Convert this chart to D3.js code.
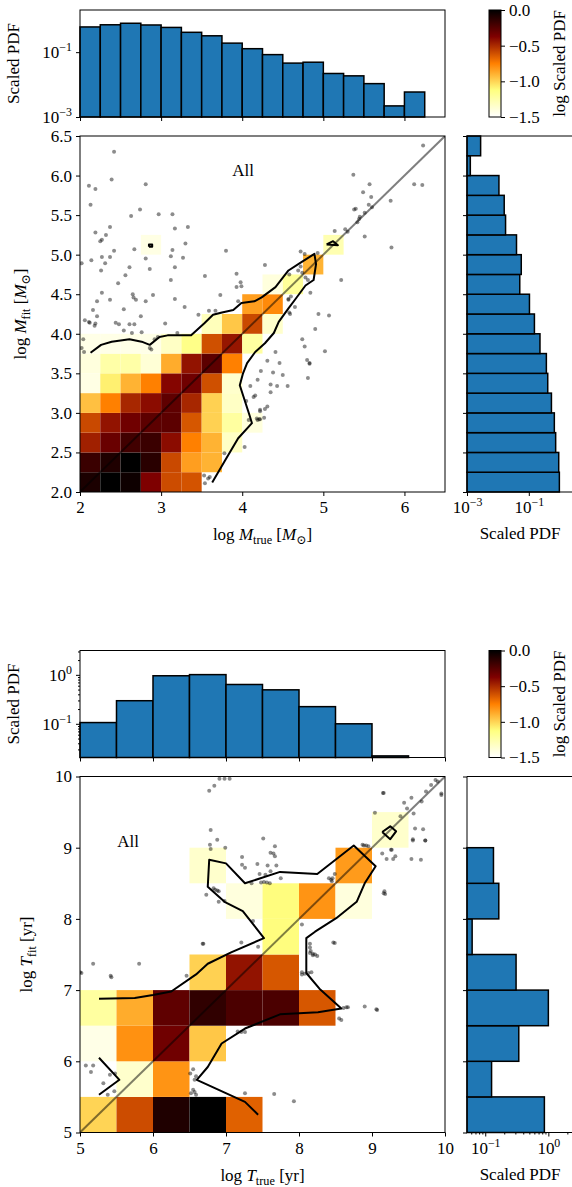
<!DOCTYPE html>
<html>
<head>
<meta charset="utf-8">
<script src="https://cdn.jsdelivr.net/npm/d3@7"></script>
<style>
  body { margin: 0; background: #fff; }
  text { font-family: "Liberation Serif", "DejaVu Serif", serif; fill: #000; }
</style>
</head>
<body>
<script>
// ---------- mass panel data ----------
const massBins = [2.0, 2.25, 2.5, 2.75, 3.0, 3.25, 3.5, 3.75, 4.0, 4.25, 4.5, 4.75, 5.0, 5.25, 5.5, 5.75, 6.0, 6.25, 6.5];
const massTicksX = [2, 3, 4, 5, 6];
const massTicksY = [2.0, 2.5, 3.0, 3.5, 4.0, 4.5, 5.0, 5.5, 6.0, 6.5];
// scaled PDF of M_true (top) and M_fit (right), one value per bin
const massTopPdf = [0.60, 0.70, 0.78, 0.69, 0.58, 0.41, 0.32, 0.19, 0.128, 0.084, 0.046, 0.049, 0.022, 0.0186, 0.0107, 0.0022, 0.0059, 0];
const massRightPdf = [0.975, 0.93, 0.74, 0.67, 0.54, 0.41, 0.37, 0.23, 0.152, 0.105, 0.051, 0.057, 0.040, 0.0177, 0.016, 0.0108, 0.00128, 0.00276];
// log scaled PDF of the 2d histogram, rows from M_fit = 2.0 upward
const massGrid = [
  [-0.08, 0, -0.04, -0.37, -0.6, -0.62],
  [-0.17, -0.09, 0, -0.12, -0.59, -0.84, -0.9],
  [-0.47, -0.31, -0.19, -0.17, -0.41, -0.75, -0.9, -1.33],
  [-0.59, -0.43, -0.33, -0.27, -0.27, -0.63, -0.99, -1.22, -1.4],
  [-0.94, -0.75, -0.49, -0.41, -0.28, -0.49, -0.99, -1.33],
  [-1.42, -1.08, -0.9, -0.75, -0.39, -0.33, -0.61, -1.35],
  [-1.4, -1.24, -1.24, -1.38, -0.88, -0.43, -0.27, -0.75],
  [-1.43, -1.43, -1.43, -1.43, -1.33, -1.15, -0.61, -0.44, -1.22],
  [null, null, null, null, null, null, -1.3, -0.96, -0.59, -1.35],
  [null, null, null, null, null, null, null, null, -0.84, -0.78],
  [null, null, null, null, null, null, null, null, null, -1.4, -1.2],
  [null, null, null, null, null, null, null, null, null, null, null, -0.9],
  [null, null, null, -1.42, null, null, null, null, null, null, null, null, -1.27]
];
const massPts = [
  [2.42,6.30],[2.39,5.95],[2.81,5.89],[2.11,5.87],[2.19,5.83],[2.13,5.63],[2.63,5.49],[2.74,5.57],[2.97,5.51],[3.14,5.51],
  [3.17,5.33],[3.33,5.35],[2.37,5.35],[2.19,5.28],[2.32,5.25],[2.27,5.19],[2.25,5.17],[3.30,5.14],[2.67,5.07],[3.14,5.06],
  [2.42,5.05],[2.14,4.93],[2.27,4.97],[2.37,4.97],[2.31,4.89],[2.02,4.89],[2.81,4.95],[3.12,4.98],[3.27,4.96],[3.80,5.05],
  [2.61,4.84],[2.86,4.82],[3.17,4.84],[2.26,4.80],[2.56,4.74],[3.54,4.73],[3.93,4.76],[3.98,4.65],[3.93,4.59],[3.99,4.60],
  [3.12,4.68],[2.47,4.64],[2.27,4.52],[2.90,4.49],[2.65,4.50],[2.66,4.46],[2.69,4.43],[2.37,4.43],[2.81,4.41],[3.17,4.44],
  [3.73,4.49],[4.28,4.87],[2.21,4.41],[2.16,4.30],[2.54,4.31],[3.29,4.34],[2.21,4.22],[2.75,4.22],[3.46,4.24],[3.59,4.29],
  [3.67,4.29],[2.11,4.15],[2.19,4.13],[2.18,4.10],[2.44,4.14],[2.48,4.12],[2.61,4.12],[2.67,4.12],[3.05,4.13],[2.76,4.02],
  [2.54,4.04],[2.64,4.01],[3.20,4.01],[2.06,4.17],[2.12,4.14],[2.04,3.93],[2.02,3.82],[2.05,3.77],[2.92,3.93],[2.96,3.96],
  [2.86,3.82],[2.88,3.80],[3.95,4.41],[4.23,3.53],[4.10,3.34],[4.14,3.20],[4.05,3.15],[4.22,3.04],[4.18,2.93],[4.21,2.92],
  [4.08,2.91],[4.03,2.57],[3.78,2.49],[3.53,2.21],[3.58,2.17],[3.54,2.11],[3.60,2.19],[4.57,4.43],[4.65,4.34],[4.59,4.25],
  [4.58,4.27],[4.94,4.25],[5.07,4.23],[4.90,4.06],[4.74,3.93],[4.77,3.84],[5.02,3.78],[4.41,3.77],[4.31,3.66],[4.46,3.63],
  [4.80,3.67],[4.83,3.62],[4.83,3.63],[4.38,3.51],[4.50,3.48],[4.81,3.44],[4.19,3.42],[4.35,3.36],[4.43,3.34],[4.56,3.34],
  [4.35,3.26],[4.16,3.22],[4.31,3.08],[4.28,3.05],[4.22,3.02],[4.27,2.94],[4.19,2.91],[4.22,2.92],[6.23,6.38],[5.37,6.01],
  [5.57,5.89],[6.12,5.89],[6.22,5.88],[5.49,5.79],[5.59,5.73],[5.83,5.68],[5.56,5.63],[5.38,5.57],[5.40,5.58],[5.60,5.60],
  [5.51,5.53],[5.45,5.48],[5.44,5.45],[5.42,5.41],[5.14,5.30],[5.27,5.32],[5.30,5.29],[5.51,5.23],[5.84,5.09],[4.72,5.04],
  [4.77,5.01],[4.93,5.02],[4.58,4.75],[4.72,4.85],[4.69,4.80],[4.74,4.77],[4.78,4.71],[4.81,4.68],[5.22,4.68],[4.84,4.52],
  [4.57,4.44],[4.60,4.47]
];
const massContours = [
  [[2.13,3.76],[2.26,3.86],[2.39,3.90],[2.61,3.93],[2.76,3.90],[2.86,3.86],[2.98,3.96],[3.08,3.98],[3.37,3.98],[3.53,4.13],
   [3.64,4.24],[3.75,4.27],[3.89,4.30],[3.99,4.39],[4.15,4.41],[4.24,4.46],[4.41,4.59],[4.57,4.80],[4.72,4.90],[4.89,5.01],
   [4.91,4.88],[4.88,4.68],[4.78,4.61],[4.65,4.43],[4.57,4.32],[4.45,4.15],[4.39,4.01],[4.28,3.88],[4.16,3.77],[4.06,3.63],
   [4.01,3.50],[3.97,3.35],[4.03,3.16],[4.09,2.97],[4.12,2.87],[3.95,2.68],[3.79,2.40],[3.63,2.12]],
  [[5.04,5.13],[5.12,5.17],[5.18,5.12],[5.04,5.13]],
  [[2.85,5.10],[2.89,5.10],[2.89,5.13],[2.85,5.13],[2.85,5.10]]
];

// ---------- age panel data ----------
const timeBins = [5.0, 5.5, 6.0, 6.5, 7.0, 7.5, 8.0, 8.5, 9.0, 9.5, 10.0];
const timeTicks = [5, 6, 7, 8, 9, 10];
const timeTopPdf = [0.106, 0.296, 0.957, 1.01, 0.635, 0.494, 0.224, 0.100, 0.0221, 0];
const timeRightPdf = [0.865, 0.126, 0.340, 1.0, 0.308, 0.062, 0.164, 0.135, 0, 0];
const timeGrid = [
  [-1.0, -0.6, -0.09, 0, -0.66],
  [null, -1.35, -0.81],
  [-1.43, -0.8, -0.33, -0.96],
  [-1.22, -0.88, -0.28, -0.14, -0.22, -0.22, -0.63],
  [null, null, null, -0.99, -0.43, -0.63],
  [null, null, null, null, null, -1.12],
  [null, null, null, null, -1.4, -1.12, -0.81, -1.4],
  [null, null, null, -1.35, null, null, null, -0.83],
  [null, null, null, null, null, null, null, null, -1.35]
];
const timePts = [
  [6.91,9.97],[6.98,9.97],[7.05,9.97],[6.84,9.87],[6.77,9.80],[9.16,9.77],[9.87,9.95],[9.90,9.93],[9.81,9.88],[9.95,9.76],
  [9.74,9.79],[9.54,9.70],[9.44,9.63],[9.68,9.65],[9.48,9.55],[9.57,9.48],[9.39,9.44],[9.59,9.27],[9.56,9.12],[9.73,9.10],
  [9.26,8.97],[9.14,8.92],[9.67,8.83],[9.32,8.88],[9.16,8.36],[6.79,9.25],[6.88,9.11],[6.78,9.04],[6.79,8.98],[6.99,9.00],
  [7.51,9.13],[7.67,9.02],[7.61,8.93],[7.65,8.92],[7.67,8.88],[7.22,8.87],[7.22,8.76],[7.26,8.72],[7.43,8.77],[7.57,8.75],
  [7.69,8.75],[7.61,8.67],[7.46,8.63],[7.54,8.62],[7.75,8.57],[7.48,8.51],[7.52,8.52],[7.56,8.51],[7.35,8.50],[7.60,8.50],
  [6.83,8.43],[6.85,8.41],[6.88,8.40],[6.90,8.39],[6.73,8.34],[6.90,8.24],[6.98,8.25],[8.41,8.57],[8.44,8.55],[8.46,8.57],
  [8.45,8.53],[8.49,8.63],[8.87,9.04],[8.89,9.03],[8.92,9.03],[8.95,9.02],[9.17,8.39],[7.37,7.97],[6.68,7.65],[7.21,7.67],
  [7.44,7.61],[8.15,7.60],[8.16,7.55],[8.49,7.66],[8.15,7.52],[8.04,7.92],[8.19,7.51],[8.15,7.65],[8.17,7.25],[8.04,7.25],
  [8.47,7.67],[5.0,7.25],[5.18,7.37],[5.42,7.20],[5.43,7.18],[5.81,7.37],[6.46,7.20],[6.69,7.65],[8.65,6.76],[8.67,6.76],
  [8.55,6.60],[8.90,6.77],[9.06,6.73],[7.16,6.42],[7.21,6.41],[7.26,6.41],[9.29,8.84],[9.20,8.84],[9.18,8.35],[9.27,8.97],
  [9.04,9.49],[9.15,9.77],[9.70,9.26],[9.73,9.10],[9.56,9.10],[9.54,8.84],[9.95,9.74],[5.02,7.24],[5.08,5.94],[5.18,5.94],
  [5.15,5.85],[5.41,5.81],[5.48,5.83],[5.32,5.69],[5.38,5.53],[5.47,5.58],[6.55,5.89],[6.51,5.83],[6.59,5.79],[6.57,5.74],
  [6.55,5.60],[6.57,5.57],[6.52,5.55],[6.59,5.53],[7.26,5.55],[7.66,5.54],[7.93,5.44],[8.04,7.22],[8.08,7.23],[8.13,7.24],
  [8.19,7.49],[8.22,7.50],[8.25,7.48],[8.61,6.75],[8.58,6.58],[9.07,6.72]
];
const timeContours = [
  [[5.26,6.88],[5.75,6.89],[6.0,6.93],[6.25,6.98],[6.59,7.22],[6.75,7.37],[7.07,7.53],[7.52,7.73],[7.23,8.11],[6.98,8.24],
   [6.75,8.45],[6.77,8.83],[7.0,8.78],[7.26,8.50],[7.74,8.66],[8.25,8.63],[8.75,9.03],[9.05,8.74],[8.90,8.50],[8.79,8.24],
   [8.51,8.01],[8.22,7.82],[8.10,7.73],[8.10,7.24],[8.28,7.02],[8.58,6.74],[8.26,6.69],[7.74,6.66],[7.26,6.46],[6.94,6.25],
   [6.75,5.92],[6.60,5.74],[7.26,5.43],[7.44,5.25]],
  [[5.26,6.05],[5.54,5.74],[5.26,5.53]],
  [[9.14,9.22],[9.25,9.30],[9.33,9.23],[9.25,9.12],[9.14,9.22]]
];

const cbarTicks = [0, -0.5, -1.0, -1.5];

// afmhot_r, vmin -1.5, vmax 0
function afmhotR(v) {
  const t = Math.max(0, Math.min(1, -v / 1.5));
  const c = a => Math.round(255 * Math.max(0, Math.min(1, a)));
  return `rgb(${c(2 * t)},${c(2 * t - 0.5)},${c(2 * t - 1)})`;
}

const svg = d3.select("body").append("svg").attr("width", 572).attr("height", 1187);
const FS = 17;      // labels
const TS = 17;      // tick labels
const BLUE = "#1f77b4";

function mathText(t, parts) {
  let shift = 0;
  parts.forEach(([s, k]) => {
    const target = k === "s" ? 4 : 0;
    const ts = t.append("tspan").text(s).attr("dy", target - shift);
    shift = target;
    if (k === "s") ts.attr("font-size", FS * 0.72);
    if (k === "i") ts.attr("font-style", "italic");
  });
}

function supTicks(sel) {
  sel.selectAll(".tick text").each(function (d) {
    const t = d3.select(this).text("");
    t.append("tspan").text("10");
    t.append("tspan").attr("dy", -7).attr("font-size", TS * 0.7)
      .text(String(Math.round(Math.log10(d))).replace("-", "\u2212"));
  });
}

function styleAxis(g) {
  g.select(".domain").remove();
  g.selectAll(".tick line").attr("stroke", "#000");
  g.selectAll(".tick text").attr("font-size", TS).attr("font-family", null);
}

function minorTicks(dom) {
  const out = [];
  for (let e = Math.floor(Math.log10(dom[0])); e <= Math.ceil(Math.log10(dom[1])); e++) {
    for (let m = 2; m <= 9; m++) {
      const v = m * Math.pow(10, e);
      if (v >= dom[0] && v <= dom[1]) out.push(v);
    }
  }
  return out;
}

let pid = 0;
function panel(o) {
  pid++;
  const X0 = 80, X1 = 445, R0 = 467, R1 = 572;
  const mT = o.mainT, mB = o.mainT + 356;
  const hT = o.mainT - 126, hB = o.mainT - 19;
  const g = svg.append("g");

  const x = d3.scaleLinear().domain([o.bins[0], o.bins[o.bins.length - 1]]).range([X0, X1]);
  const y = d3.scaleLinear().domain([o.bins[0], o.bins[o.bins.length - 1]]).range([mB, mT]);

  g.append("clipPath").attr("id", "clip" + pid)
    .append("rect").attr("x", X0).attr("y", mT).attr("width", X1 - X0).attr("height", mB - mT);
  const plot = g.append("g").attr("clip-path", `url(#clip${pid})`);

  // 2d histogram cells
  const cells = [];
  o.grid.forEach((row, j) => row.forEach((v, i) => { if (v !== null) cells.push({ i, j, v }); }));
  plot.selectAll("rect.cell").data(cells).join("rect")
    .attr("x", d => x(o.bins[d.i]))
    .attr("y", d => y(o.bins[d.j + 1]))
    .attr("width", d => x(o.bins[d.i + 1]) - x(o.bins[d.i]))
    .attr("height", d => y(o.bins[d.j]) - y(o.bins[d.j + 1]))
    .attr("fill", d => afmhotR(d.v));

  // one-to-one line
  const dom = x.domain();
  plot.append("line")
    .attr("x1", x(dom[0])).attr("y1", y(dom[0]))
    .attr("x2", x(dom[1])).attr("y2", y(dom[1]))
    .attr("stroke", "#000").attr("stroke-opacity", 0.5).attr("stroke-width", 2);

  plot.selectAll("circle").data(o.pts).join("circle")
    .attr("cx", d => x(d[0])).attr("cy", d => y(d[1])).attr("r", 2)
    .attr("fill", "#000").attr("fill-opacity", 0.45);

  const line = d3.line().x(d => x(d[0])).y(d => y(d[1]));
  plot.selectAll("path.contour").data(o.contours).join("path")
    .attr("d", line).attr("fill", "none").attr("stroke", "#000")
    .attr("stroke-width", 2).attr("stroke-linejoin", "round");

  g.append("rect").attr("x", X0).attr("y", mT).attr("width", X1 - X0).attr("height", mB - mT)
    .attr("fill", "none").attr("stroke", "#000");

  g.append("g").attr("transform", `translate(0,${mB})`)
    .call(d3.axisBottom(x).tickValues(o.xTicks).tickFormat(o.xFmt).tickSize(4).tickPadding(5))
    .call(styleAxis);
  g.append("g").attr("transform", `translate(${X0},0)`)
    .call(d3.axisLeft(y).tickValues(o.yTicks).tickFormat(o.yFmt).tickSize(4).tickPadding(4))
    .call(styleAxis);

  g.append("text").attr("x", o.allPos[0]).attr("y", o.allPos[1]).attr("text-anchor", "middle")
    .attr("font-size", 17).text("All");

  const xl = g.append("text").attr("x", (X0 + X1) / 2).attr("y", mB + 48).attr("text-anchor", "middle").attr("font-size", FS);
  mathText(xl, o.xLabel);
  const yl = g.append("text").attr("transform", `translate(${o.yLabelX},${(mT + mB) / 2}) rotate(-90)`)
    .attr("text-anchor", "middle").attr("font-size", FS);
  mathText(yl, o.yLabel);

  // top histogram
  const yt = d3.scaleLog().domain(o.topDomain).range([hB, hT]);
  const top = g.append("g");
  top.selectAll("rect").data(o.topPdf.map((v, i) => ({ v, i })).filter(d => d.v > o.topDomain[0])).join("rect")
    .attr("x", d => x(o.bins[d.i])).attr("width", d => x(o.bins[d.i + 1]) - x(o.bins[d.i]))
    .attr("y", d => yt(d.v)).attr("height", d => hB - yt(d.v))
    .attr("fill", BLUE).attr("stroke", "#000").attr("stroke-width", 1.5);
  top.append("rect").attr("x", X0).attr("y", hT).attr("width", X1 - X0).attr("height", hB - hT)
    .attr("fill", "none").attr("stroke", "#000");
  top.append("g").attr("transform", `translate(0,${hB})`)
    .call(d3.axisBottom(x).tickValues(o.xTicks).tickFormat("").tickSize(4)).call(styleAxis);
  top.append("g").attr("transform", `translate(${X0},0)`)
    .call(d3.axisLeft(yt).tickValues(o.topTicks).tickSize(4).tickPadding(4)).call(styleAxis).call(supTicks);
  if (o.minor) {
    top.append("g").attr("transform", `translate(${X0},0)`)
      .call(d3.axisLeft(yt).tickValues(minorTicks(o.topDomain)).tickFormat("").tickSize(2)).call(styleAxis);
  }
  top.append("text").attr("transform", `translate(19,${(hT + hB) / 2}) rotate(-90)`)
    .attr("text-anchor", "middle").attr("font-size", FS).text("Scaled PDF");

  // right histogram
  const xr = d3.scaleLog().domain(o.rightDomain).range([R0, R1]);
  const right = g.append("g");
  right.selectAll("rect").data(o.rightPdf.map((v, i) => ({ v, i })).filter(d => d.v > o.rightDomain[0])).join("rect")
    .attr("x", R0).attr("width", d => xr(d.v) - R0)
    .attr("y", d => y(o.bins[d.i + 1])).attr("height", d => y(o.bins[d.i]) - y(o.bins[d.i + 1]))
    .attr("fill", BLUE).attr("stroke", "#000").attr("stroke-width", 1.5);
  right.append("path").attr("d", `M${R1},${mT}H${R0}V${mB}H${R1}`).attr("fill", "none").attr("stroke", "#000");
  right.append("g").attr("transform", `translate(${R0},0)`)
    .call(d3.axisLeft(y).tickValues(o.yTicks).tickFormat("").tickSize(4)).call(styleAxis);
  right.append("g").attr("transform", `translate(0,${mB})`)
    .call(d3.axisBottom(xr).tickValues(o.rightTicks).tickSize(4).tickPadding(5)).call(styleAxis).call(supTicks);
  if (o.minor) {
    right.append("g").attr("transform", `translate(0,${mB})`)
      .call(d3.axisBottom(xr).tickValues(minorTicks(o.rightDomain)).tickFormat("").tickSize(2)).call(styleAxis);
  }
  right.append("text").attr("x", 520).attr("y", mB + 47).attr("text-anchor", "middle")
    .attr("font-size", FS).text("Scaled PDF");

  // colorbar
  const C0 = 489, C1 = 501;
  const grad = svg.append("defs").append("linearGradient").attr("id", "cb" + pid)
    .attr("x1", 0).attr("y1", 0).attr("x2", 0).attr("y2", 1);
  d3.range(0, 1.0001, 0.05).forEach(f => {
    grad.append("stop").attr("offset", f).attr("stop-color", afmhotR(-1.5 * f));
  });
  const yc = d3.scaleLinear().domain([-1.5, 0]).range([hB, hT]);
  g.append("rect").attr("x", C0).attr("y", hT).attr("width", C1 - C0).attr("height", hB - hT)
    .attr("fill", `url(#cb${pid})`).attr("stroke", "#000");
  g.append("g").attr("transform", `translate(${C1},0)`)
    .call(d3.axisRight(yc).tickValues(cbarTicks).tickSize(4).tickPadding(4)
      .tickFormat(d => d3.format(".1f")(d).replace("-", "\u2212")))
    .call(styleAxis);
  g.append("text").attr("transform", `translate(565,${(hT + hB) / 2}) rotate(-90)`)
    .attr("text-anchor", "middle").attr("font-size", FS).text("log Scaled PDF");
}

panel({
  mainT: 136, bins: massBins, grid: massGrid, pts: massPts, contours: massContours,
  xTicks: massTicksX, yTicks: massTicksY, xFmt: d3.format("d"), yFmt: d3.format(".1f"),
  topPdf: massTopPdf, topDomain: [1e-3, 2], topTicks: [1e-3, 1e-1],
  rightPdf: massRightPdf, rightDomain: [1e-3, 2.5], rightTicks: [1e-3, 1e-1], minor: false,
  allPos: [243, 176], yLabelX: 26,
  xLabel: [["log ", "r"], ["M", "i"], ["true", "s"], [" [", "r"], ["M", "i"], ["\u2299", "s"], ["]", "r"]],
  yLabel: [["log ", "r"], ["M", "i"], ["fit", "s"], [" [", "r"], ["M", "i"], ["\u2299", "s"], ["]", "r"]]
});

panel({
  mainT: 776.5, bins: timeBins, grid: timeGrid, pts: timePts, contours: timeContours,
  xTicks: timeTicks, yTicks: timeTicks, xFmt: d3.format("d"), yFmt: d3.format("d"),
  topPdf: timeTopPdf, topDomain: [0.0205, 3.14], topTicks: [1e-1, 1],
  rightPdf: timeRightPdf, rightDomain: [0.0514, 2.37], rightTicks: [1e-1, 1], minor: true,
  allPos: [128, 847], yLabelX: 32,
  xLabel: [["log ", "r"], ["T", "i"], ["true", "s"], [" [yr]", "r"]],
  yLabel: [["log ", "r"], ["T", "i"], ["fit", "s"], [" [yr]", "r"]]
});
</script>
</body>
</html>
